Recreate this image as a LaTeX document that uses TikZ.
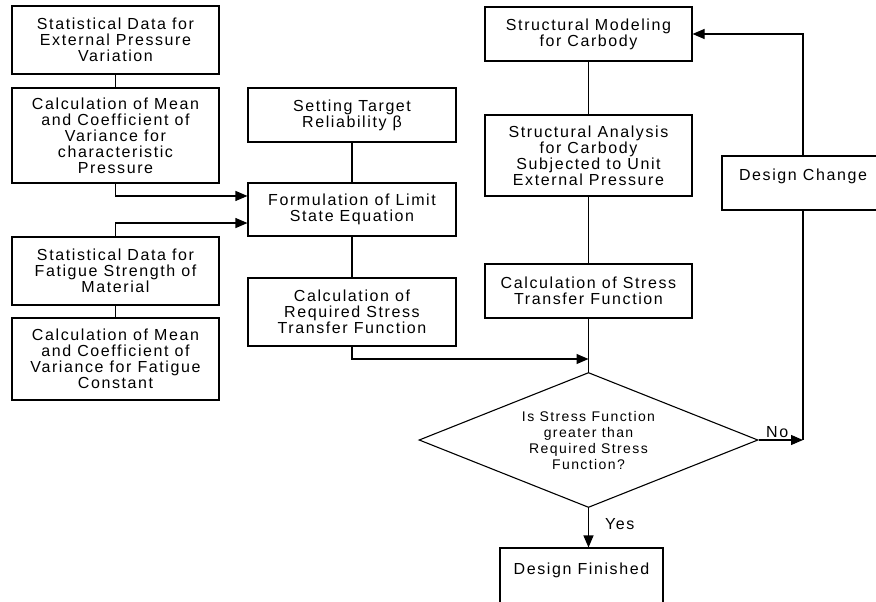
\documentclass[tikz,border=0pt]{standalone}
\usepackage{fontspec}
\setmainfont{Liberation Sans}[LetterSpace=10]
\usepackage{tikz}
\usetikzlibrary{positioning,shapes.geometric,arrows.meta,calc}

\tikzset{
  box/.style={draw,line width=1.1pt,align=center,inner sep=0pt,font=\fontsize{16}{16}\selectfont},
  arr/.style={-{Triangle[length=12pt,width=10pt]}},
  lbl/.style={font=\fontsize{16}{16}\selectfont,inner sep=2pt},
}

\begin{document}
\begin{tikzpicture}[x=1pt,y=-1pt,line width=1.1pt]
\useasboundingbox (0,0) rectangle (876,602);
\clip (0,0) rectangle (876,602);

% Left column
\node[box,minimum width=207pt,minimum height=68pt] (pdata) at (115.5,40) {Statistical Data for\\External Pressure\\Variation};
\node[box,minimum width=207pt,minimum height=95pt] (pmean) at (115.5,135.5) {Calculation of Mean\\and Coefficient of\\Variance for\\characteristic\\Pressure};
\node[box,minimum width=207pt,minimum height=68pt] (fdata) at (115.5,271) {Statistical Data for\\Fatigue Strength of\\Material};
\node[box,minimum width=207pt,minimum height=82pt] (fmean) at (115.5,359) {Calculation of Mean\\and Coefficient of\\Variance for Fatigue\\Constant};

% Middle column
\node[box,minimum width=208pt,minimum height=54pt] (target) at (352,115) {Setting Target\\Reliability β};
\node[box,minimum width=208pt,minimum height=53pt] (limit) at (352,209.5) {Formulation of Limit\\State Equation};
\node[box,minimum width=208pt,minimum height=68pt] (reqtf) at (352,312) {Calculation of\\Required Stress\\Transfer Function};

% Right column
\node[box,minimum width=207pt,minimum height=54pt] (model) at (588.5,34) {Structural Modeling\\for Carbody};
\node[box,minimum width=207pt,minimum height=81pt] (analysis) at (588.5,155.5) {Structural Analysis\\for Carbody\\Subjected to Unit\\External Pressure};
\node[box,minimum width=207pt,minimum height=54pt] (stf) at (588.5,291) {Calculation of Stress\\Transfer Function};
\node[box,diamond,aspect=2.5,minimum width=339pt,minimum height=135pt,font=\fontsize{14}{16}\selectfont] (check) at (588.5,440) {Is Stress Function\\greater than\\Required Stress\\Function?};
\node[box,minimum width=163pt,minimum height=58pt] (done) at (581.5,577) {Design Finished\\~};
\node[box,minimum width=162pt,minimum height=54pt] (change) at (803,183) {Design Change\\~};

% Connectors
\coordinate (merge) at (588.5,359);
\coordinate (turn) at (check.east -| change.south);
\draw (pdata.south) -- (pmean.north);
\draw (fdata.south) -- (fmean.north);
\draw[arr] (pmean.south) |- ($(limit.north west)!0.25!(limit.south west)$);
\draw[arr] (fdata.north) |- ($(limit.north west)!0.75!(limit.south west)$);
\draw (target.south) -- (limit.north);
\draw (limit.south) -- (reqtf.north);
\draw[arr] (reqtf.south) |- (merge);
\draw (model.south) -- (analysis.north);
\draw (analysis.south) -- (stf.north);
\draw (stf.south) -- (check.north);
\draw[arr] (check.east) -- (turn) node[lbl,pos=0.42,above] (lno) {No};
\draw (turn) -- (change.south);
\draw[arr] (change.north) |- (model.east);
\draw[arr] (check.south) -- (check.south |- done.north) node[lbl,pos=0.4,right=14pt] (lyes) {Yes};
\end{tikzpicture}
\end{document}
